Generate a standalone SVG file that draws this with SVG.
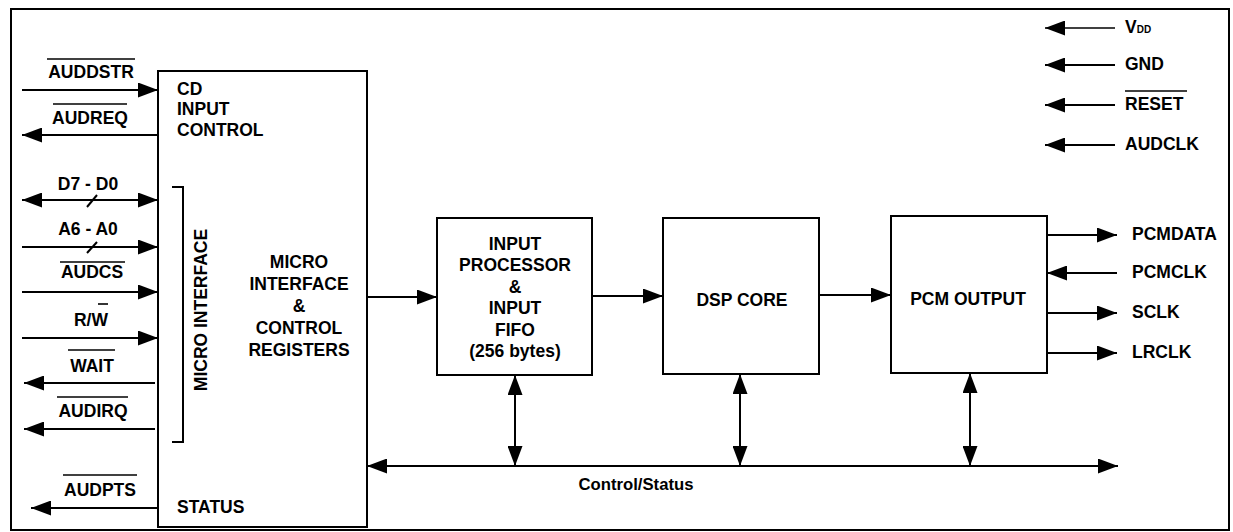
<svg xmlns="http://www.w3.org/2000/svg" width="1233" height="532" viewBox="0 0 1233 532">
<style>
  .box { fill: #fff; stroke: #000; stroke-width: 2; }
  .ln { stroke: #000; stroke-width: 2; fill: none; }
  .thin { stroke: #000; stroke-width: 1.3; fill: none; }
  .t { font-family: "Liberation Sans", Arial, sans-serif; font-weight: bold; font-size: 17.5px; fill: #000; }
  .r { font-family: "Liberation Sans", Arial, sans-serif; font-weight: bold; font-size: 16.7px; fill: #000; }
  .m { text-anchor: middle; }
  .ob { stroke: #000; stroke-width: 1.6; }
  .a { marker-end: url(#ah); }
  .s { marker-start: url(#ah); }
</style>
<defs>
  <marker id="ah" viewBox="0 0 20 15" refX="20" refY="7.5" markerWidth="20" markerHeight="15" markerUnits="userSpaceOnUse" orient="auto-start-reverse">
    <path d="M0,0 L20,7.5 L0,15 z" fill="#000"/>
  </marker>
</defs>
<rect x="0" y="0" width="1233" height="532" fill="#fff"/>
<rect id="frame" x="11" y="9" width="1218" height="521" fill="none" stroke="#000" stroke-width="2"/>

<g id="micro-block">
  <rect class="box" x="158" y="71" width="209" height="456"/>
  <text class="t" x="177" y="95">CD</text>
  <text class="t" x="177" y="115">INPUT</text>
  <text class="t" x="177" y="136">CONTROL</text>
  <text class="t m" x="299" y="268">MICRO</text>
  <text class="t m" x="299" y="290">INTERFACE</text>
  <text class="t m" x="299" y="312">&amp;</text>
  <text class="t m" x="299" y="334">CONTROL</text>
  <text class="t m" x="299" y="356">REGISTERS</text>
  <text class="t" x="177" y="513">STATUS</text>
  <path class="ln" d="M172,187 H183 V442 H172"/>
  <text class="t m" transform="translate(207,310) rotate(-90)">MICRO INTERFACE</text>
</g>

<g id="input-processor">
  <rect class="box" x="437" y="218" width="155" height="157"/>
  <text class="t m" x="515" y="250">INPUT</text>
  <text class="t m" x="515" y="271">PROCESSOR</text>
  <text class="t m" x="515" y="293">&amp;</text>
  <text class="t m" x="515" y="314">INPUT</text>
  <text class="t m" x="515" y="336">FIFO</text>
  <text class="t m" x="515" y="357">(256 bytes)</text>
</g>

<g id="dsp-core">
  <rect class="box" x="663" y="218" width="156" height="156"/>
  <text class="t m" x="742" y="306">DSP CORE</text>
</g>

<g id="pcm-output">
  <rect class="box" x="891" y="216" width="156" height="157"/>
  <text class="t m" x="968" y="305">PCM OUTPUT</text>
</g>

<g id="left-signals">
  <text class="t m" x="91" y="78">AUDDSTR</text>
  <line class="ob" x1="47" y1="59" x2="135" y2="59"/>
  <text class="t m" x="90" y="124">AUDREQ</text>
  <line class="ob" x1="53" y1="104" x2="127" y2="104"/>
  <text class="t m" x="88" y="190">D7 - D0</text>
  <text class="t m" x="88" y="235">A6 - A0</text>
  <text class="t m" x="92" y="278">AUDCS</text>
  <line class="ob" x1="60" y1="262" x2="125" y2="262"/>
  <text class="t m" x="91" y="326">R/W</text>
  <line class="ob" x1="98" y1="304" x2="108" y2="304"/>
  <text class="t m" x="92" y="372">WAIT</text>
  <line class="ob" x1="68" y1="350" x2="115" y2="350"/>
  <text class="t m" x="93" y="417">AUDIRQ</text>
  <line class="ob" x1="57" y1="397" x2="128" y2="397"/>
  <text class="t m" x="100" y="496">AUDPTS</text>
  <line class="ob" x1="63" y1="475" x2="137" y2="475"/>
</g>

<g id="right-signals">
  <text class="t" x="1125" y="33">V<tspan font-size="10">DD</tspan></text>
  <text class="t" x="1125" y="70">GND</text>
  <text class="t" x="1125" y="110">RESET</text>
  <line class="ob" x1="1125" y1="91" x2="1187" y2="91"/>
  <text class="t" x="1125" y="150">AUDCLK</text>
  <text class="t" x="1132" y="240">PCMDATA</text>
  <text class="t" x="1132" y="278">PCMCLK</text>
  <text class="t" x="1132" y="318">SCLK</text>
  <text class="t" x="1132" y="358">LRCLK</text>
</g>

<g id="connectors">
  <line class="ln a" x1="22" y1="90" x2="158" y2="90"/>
  <line class="ln a" x1="158" y1="135" x2="22" y2="135"/>
  <line class="ln a s" x1="22" y1="200" x2="158" y2="200"/>
  <line class="ln" x1="87" y1="207" x2="97" y2="195"/>
  <line class="ln a" x1="22" y1="247" x2="158" y2="247"/>
  <line class="ln" x1="87" y1="253" x2="97" y2="242"/>
  <line class="ln a" x1="22" y1="292" x2="158" y2="292"/>
  <line class="ln a" x1="22" y1="338" x2="158" y2="338"/>
  <line class="ln a" x1="155" y1="383" x2="24" y2="383"/>
  <line class="ln a" x1="155" y1="429" x2="24" y2="429"/>
  <line class="ln a" x1="158" y1="508" x2="31" y2="508"/>

  <line class="thin a" x1="1115" y1="28" x2="1045" y2="28"/>
  <line class="ln a" x1="1115" y1="65" x2="1045" y2="65"/>
  <line class="ln a" x1="1115" y1="105" x2="1045" y2="105"/>
  <line class="ln a" x1="1115" y1="145" x2="1045" y2="145"/>

  <line class="ln a" x1="367" y1="297" x2="437" y2="297"/>
  <line class="ln a" x1="592" y1="296" x2="663" y2="296"/>
  <line class="ln a" x1="819" y1="295" x2="891" y2="295"/>

  <line class="ln a" x1="1047" y1="235" x2="1117" y2="235"/>
  <line class="ln a" x1="1117" y1="273" x2="1047" y2="273"/>
  <line class="ln a" x1="1047" y1="313" x2="1117" y2="313"/>
  <line class="ln a" x1="1047" y1="353" x2="1117" y2="353"/>

  <line class="ln a s" x1="367" y1="466" x2="1118" y2="466"/>
  <line class="ln a s" x1="515" y1="375" x2="515" y2="466"/>
  <line class="ln a s" x1="740" y1="374" x2="740" y2="466"/>
  <line class="ln a s" x1="970" y1="373" x2="970" y2="466"/>
  <text class="r m" x="636" y="490">Control/Status</text>
</g>
</svg>
